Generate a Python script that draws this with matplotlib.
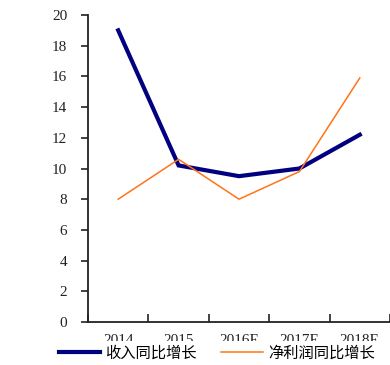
import matplotlib
matplotlib.use("Agg")
import matplotlib.pyplot as plt
from matplotlib.patches import Rectangle
from matplotlib.ticker import FixedLocator
from matplotlib.transforms import Bbox, TransformedBbox

plt.rcParams["font.family"] = ["Liberation Serif", "Noto Sans CJK SC", "DejaVu Sans"]

years = ["2014", "2015", "2016E", "2017E", "2018E"]
revenue_growth = [19.0, 10.2, 9.5, 10.0, 12.2]
profit_growth = [8.0, 10.6, 8.0, 9.8, 15.9]

NAVY = "#000080"
ORANGE = "#FF7417"

fig = plt.figure(figsize=(3.9, 3.65), dpi=100)
ax = fig.add_axes([88 / 390, 43 / 365, 1 - 88 / 390, (322 - 15) / 365])

x = list(range(len(years)))
ax.plot(x, revenue_growth, color=NAVY, linewidth=3.0, label="收入同比增长",
        solid_joinstyle="miter", zorder=3)
ax.plot(x, profit_growth, color=ORANGE, linewidth=1.1, label="净利润同比增长",
        zorder=4)

ax.set_xlim(-0.5, len(years) - 0.5)
ax.set_ylim(0, 20)
ax.set_yticks(range(0, 21, 2))
ax.set_xticks(x)
ax.set_xticklabels(years)
ax.xaxis.set_minor_locator(FixedLocator([i - 0.5 for i in range(len(years) + 1)]))

ax.tick_params(axis="y", direction="out", length=5, width=1.2, labelsize=11,
               pad=10, colors="#222222")
ax.tick_params(axis="x", which="major", length=0, labelsize=11, pad=9,
               colors="#222222")
ax.tick_params(axis="x", which="minor", direction="in", length=6, width=1.2,
               color="#222222")

for side in ("top", "right"):
    ax.spines[side].set_visible(False)
for side in ("left", "bottom"):
    ax.spines[side].set_linewidth(1.3)
    ax.spines[side].set_color("#222222")

# os rótulos do eixo x ficam cortados na metade inferior
cut = (365 - 341) / 365
clip = TransformedBbox(Bbox([[0, cut], [1, 1]]), fig.transFigure)
for lbl in ax.get_xticklabels():
    lbl.set_clip_on(True)
    lbl.set_clip_box(clip)
fig.patches.append(Rectangle((0, 0), 1, cut, transform=fig.transFigure,
                             facecolor="white", edgecolor="none", zorder=5))

leg = fig.legend(loc="center", bbox_to_anchor=(0.556, 12 / 365), ncol=2,
                 frameon=False, handlelength=2.7, handletextpad=0.35,
                 columnspacing=1.6, borderpad=0.2,
                 prop={"family": ["Noto Sans CJK SC"], "size": 11})
leg.set_zorder(10)

fig.savefig("out.png", dpi=100)
